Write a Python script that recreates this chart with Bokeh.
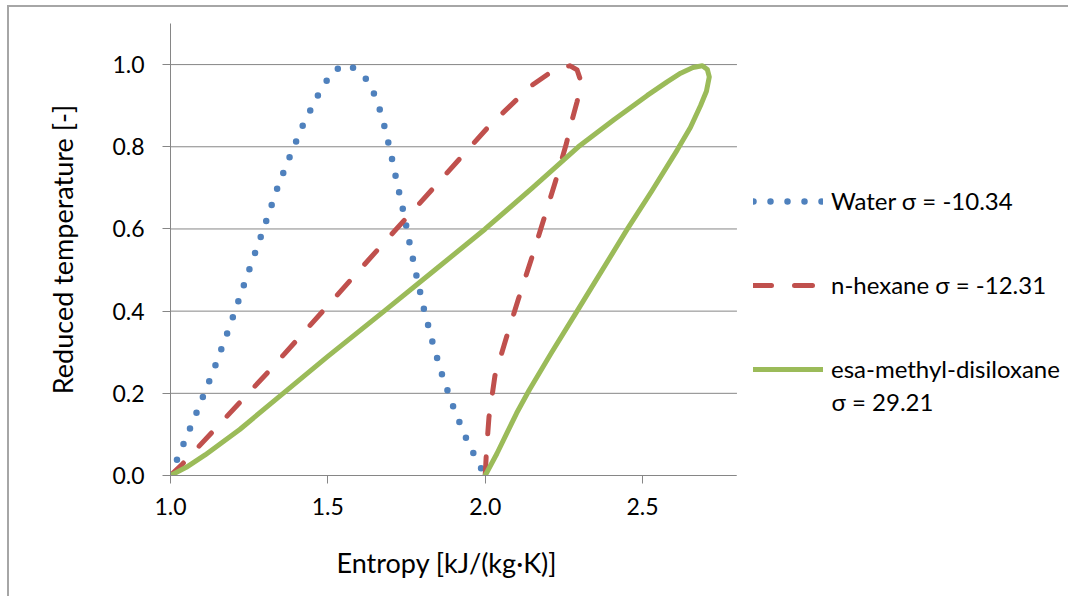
from bokeh.plotting import figure
from bokeh.models import (Range1d, FixedTicker, NumeralTickFormatter, Legend,
                          LegendItem, Label, Title)
from bokeh.embed import file_html
from bokeh.resources import INLINE

# ---- data ----
water_s = [1.0, 1.021, 1.080, 1.138, 1.191, 1.241, 1.293, 1.342, 1.380, 1.420,
           1.466, 1.492, 1.521, 1.565, 1.614, 1.641, 1.660, 1.675, 1.687, 1.699,
           1.720, 1.742, 1.762, 1.783, 1.806, 1.832, 1.861, 1.894, 1.933, 1.977, 2.0]
water_t = [0.0, 0.039, 0.148, 0.258, 0.369, 0.481, 0.594, 0.705, 0.778, 0.851,
           0.922, 0.956, 0.987, 1.0, 0.974, 0.940, 0.903, 0.865, 0.827, 0.788,
           0.712, 0.635, 0.557, 0.481, 0.403, 0.326, 0.250, 0.176, 0.101, 0.031, 0.0]

hexane_s = [1.0, 1.038, 1.088, 1.132, 1.314, 1.490, 1.660, 1.836, 2.006, 2.054,
            2.099, 2.149, 2.202, 2.240, 2.270, 2.292, 2.303, 2.300, 2.292, 2.276,
            2.258, 2.223, 2.188, 2.148, 2.107, 2.069, 2.031, 2.012, 2.004, 2.0]
hexane_t = [0.0, 0.028, 0.069, 0.105, 0.255, 0.405, 0.551, 0.700, 0.845, 0.881,
            0.914, 0.950, 0.978, 0.993, 0.997, 0.987, 0.962, 0.935, 0.910, 0.865,
            0.808, 0.715, 0.628, 0.530, 0.433, 0.340, 0.243, 0.142, 0.060, 0.0]

mdm_s = [1.0, 1.050, 1.110, 1.220, 1.358, 1.497, 1.679, 1.840, 2.0, 2.150, 2.296,
         2.409, 2.515, 2.578, 2.621, 2.660, 2.690, 2.706, 2.712, 2.703, 2.684,
         2.652, 2.610, 2.530, 2.452, 2.292, 2.210, 2.140, 2.100, 2.070, 2.037, 2.0]
mdm_t = [0.0, 0.020, 0.050, 0.112, 0.200, 0.288, 0.400, 0.500, 0.600, 0.700, 0.800,
         0.866, 0.925, 0.958, 0.979, 0.993, 0.997, 0.988, 0.970, 0.935, 0.900,
         0.847, 0.792, 0.693, 0.600, 0.400, 0.298, 0.208, 0.152, 0.105, 0.053, 0.0]

x_ticks = [1.0, 1.5, 2.0, 2.5]
y_ticks = [0.0, 0.2, 0.4, 0.6, 0.8, 1.0]
x_axis_min, x_axis_max = 1.0, 2.8
y_axis_min, y_axis_max = 0.0, 1.1

labels = ["Water σ = -10.34", "n-hexane σ = -12.31", "esa-methyl-disiloxane"]
label_line2 = "σ = 29.21"
x_title = "Entropy [kJ/(kg·K)]"
y_title = "Reduced temperature [-]"

FONT = "Lato"
GRID = "#868686"

# layout (pixels)
W, H = 1068, 596
LEFT, TOP, FH = 170, 23, 452
PX_PER_UNIT = 314.7            # horizontal scale of the x axis
FW = W - LEFT                  # frame runs under the legend area too
x_view_end = x_axis_min + FW / PX_PER_UNIT

p = figure(width=W, height=H, frame_width=FW, frame_height=FH,
           min_border_left=LEFT, min_border_right=0,
           min_border_top=TOP, min_border_bottom=H - TOP - FH,
           x_range=Range1d(x_axis_min, x_view_end),
           y_range=Range1d(y_axis_min, y_axis_max),
           output_backend="svg", toolbar_location=None)
p.outline_line_color = None
p.background_fill_color = "white"
p.border_fill_alpha = 0
p.styles = {"background":
            "linear-gradient(#a6a6a6,#a6a6a6) 7px 5px / 2px 100% no-repeat, "
            "linear-gradient(#a6a6a6,#a6a6a6) 7px 5px / 100% 2px no-repeat, white"}

# horizontal gridlines only across the axis extent
p.xgrid.visible = False
p.ygrid.visible = False
p.segment(x0=[x_axis_min] * len(y_ticks), x1=[x_axis_max] * len(y_ticks),
          y0=y_ticks, y1=y_ticks, line_color=GRID, line_width=1, level="underlay")

for ax in (p.xaxis[0], p.yaxis[0]):
    ax.axis_line_color = GRID
    ax.major_tick_line_color = GRID
    ax.major_tick_out = 8
    ax.major_tick_in = 0
    ax.minor_tick_line_color = None
    ax.major_label_text_font = FONT
    ax.major_label_text_font_size = "23px"
    ax.major_label_text_color = "black"
    ax.axis_label_text_font = FONT
    ax.axis_label_text_font_size = "27px"
    ax.axis_label_text_font_style = "normal"
    ax.axis_label_text_color = "black"
    ax.formatter = NumeralTickFormatter(format="0.0")

p.xaxis.bounds = (x_axis_min, x_axis_max)
p.xaxis.ticker = FixedTicker(ticks=x_ticks)
p.yaxis.ticker = FixedTicker(ticks=y_ticks)
p.yaxis.axis_label = y_title
p.xaxis.major_label_standoff = 14
p.yaxis.major_label_standoff = 18
p.yaxis.axis_label_standoff = 30

# x-axis title centred under the axis extent (not the whole frame)
p.add_layout(Title(text=x_title, align="left", offset=166, standoff=52,
                   text_font=FONT, text_font_size="27px",
                   text_font_style="normal", text_color="black"), "below")

r_w = p.line(water_s, water_t, line_color="#4F81BD", line_width=6.5,
             line_dash="0 17", line_cap="round", line_join="round")
r_h = p.line(hexane_s, hexane_t, line_color="#C0504D", line_width=5,
             line_dash="18 23", line_cap="round", line_join="round")
r_m = p.line(mdm_s, mdm_t, line_color="#9BBB59", line_width=5,
             line_cap="round", line_join="round")

legend = Legend(items=[LegendItem(label=labels[0], renderers=[r_w]),
                       LegendItem(label=labels[1], renderers=[r_h]),
                       LegendItem(label=labels[2], renderers=[r_m])],
                location=(583, 92), padding=0, margin=0, spacing=55,
                glyph_width=70, glyph_height=28, label_height=28,
                label_standoff=8, label_text_font=FONT,
                label_text_font_size="24px", label_text_color="black",
                border_line_color=None, background_fill_alpha=0)
p.add_layout(legend)

p.add_layout(Label(x=x_axis_min + (831 - LEFT) / PX_PER_UNIT,
                   y=(TOP + FH - 401) / FH * (y_axis_max - y_axis_min),
                   text=label_line2, text_font=FONT, text_font_size="24px",
                   text_color="black", text_baseline="middle"))

open("out.html", "w").write(file_html(p, INLINE))
